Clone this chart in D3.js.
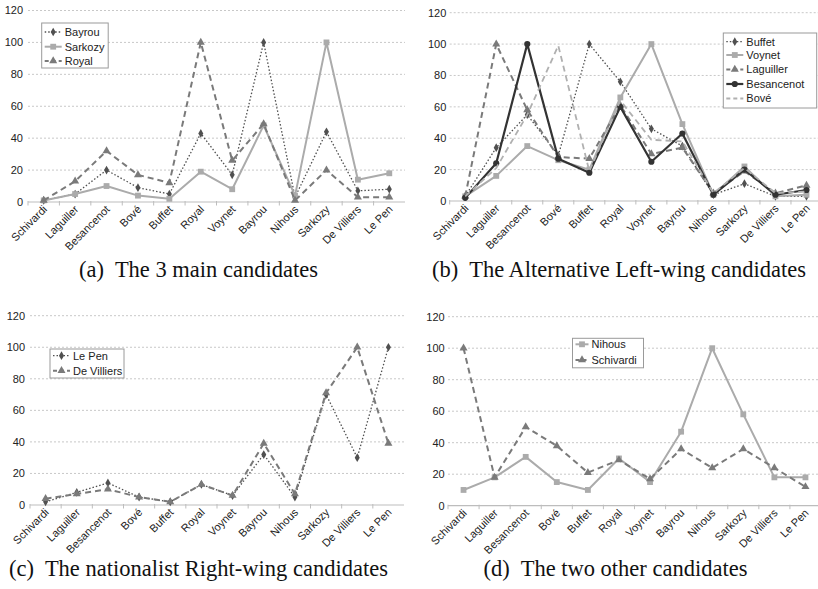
<!DOCTYPE html>
<html><head><meta charset="utf-8">
<script src="https://cdn.jsdelivr.net/npm/d3@7"></script>
<style>
html,body{margin:0;padding:0;background:#fff;}
svg{display:block;}
text{font-family:"Liberation Sans",Arial,sans-serif;}
</style></head>
<body>
<svg id="c" width="818" height="589"></svg>
<script>
const categories = ["Schivardi","Laguiller","Besancenot","Bové","Buffet","Royal","Voynet","Bayrou","Nihous","Sarkozy","De Villiers","Le Pen"];
const yTicks = [0,20,40,60,80,100,120];

// (a) The 3 main candidates
const bayrouA   = [1, 5, 20, 9, 5, 43, 17, 100, 3, 44, 7, 8];
const sarkozyA  = [1, 5, 10, 4, 2, 19, 8, 48, 4, 100, 14, 18];
const royalA    = [1, 13, 32, 17, 12, 100, 26, 49, 1, 20, 3, 3];
// (b) Alternative left-wing
const buffetB     = [3, 34, 55, 29, 100, 76, 46, 35, 4, 11, 3, 3];
const voynetB     = [3, 16, 35, 26, 20, 66, 100, 49, 4, 22, 3, 4];
const laguillerB  = [3, 100, 58, 28, 27, 61, 30, 34, 5, 19, 5, 10];
const besancenotB = [2, 24, 100, 27, 18, 60, 25, 43, 4, 20, 4, 7];
const boveB       = [3, 21, 55, 99, 19, 64, 39, 38, 5, 21, 5, 6];
// (c) Nationalist right-wing
const lepenC      = [2, 8, 14, 5, 2, 13, 6, 32, 5, 70, 30, 100];
const devilliersC = [4, 7, 10, 5, 2, 13, 6, 39, 7, 71, 100, 39];
// (d) Two other candidates
const nihousD     = [10, 18, 31, 15, 10, 30, 15, 47, 100, 58, 18, 18];
const schivardiD  = [100, 18, 50, 38, 21, 29, 17, 36, 24, 36, 24, 12];

const captions = ["(a)  The 3 main candidates","(b)  The Alternative Left-wing candidates","(c)  The nationalist Right-wing candidates","(d)  The two other candidates"];

const STY = {
  dotted:  {stroke:"#505050", width:1.3, dash:"1.5,2", sym:d3.symbolDiamond, size:22, fill:"#505050"},
  solidL:  {stroke:"#ababab", width:2, dash:null, sym:d3.symbolSquare, size:34, fill:"#ababab"},
  dashedM: {stroke:"#7a7a7a", width:2, dash:"6,4", sym:d3.symbolTriangle, size:28, fill:"#7a7a7a"},
  solidD:  {stroke:"#333333", width:2.2, dash:null, sym:d3.symbolCircle, size:30, fill:"#333333"},
  dashedL: {stroke:"#b0b0b0", width:1.8, dash:"6,4", sym:null, size:0, fill:"none"}
};

const panels = [
  {x:[28,405], axisEnd:405, y:[202,10.5], labelRight:23, caption:[198.5,277],
   legend:{x:41.7,y:23,w:66.5,h:45,rows:[32,46.7,61],sample:17},
   series:[{name:"Bayrou",v:bayrouA,s:"dotted"},{name:"Sarkozy",v:sarkozyA,s:"solidL"},{name:"Royal",v:royalA,s:"dashedM"}]},
  {x:[449.7,822], axisEnd:818, y:[201,12.7], labelRight:446.3, caption:[619,276.5],
   legend:{x:723.3,y:33,w:93.4,h:75,rows:[41.7,55,69.5,84,98.5],sample:17},
   series:[{name:"Buffet",v:buffetB,s:"dotted"},{name:"Voynet",v:voynetB,s:"solidL"},{name:"Laguiller",v:laguillerB,s:"dashedM"},{name:"Besancenot",v:besancenotB,s:"solidD"},{name:"Bové",v:boveB,s:"dashedL"}]},
  {x:[30,404], axisEnd:404, y:[505,315.7], labelRight:25, caption:[198.5,576],
   legend:{x:50,y:349,w:74,h:29,rows:[355.7,370.7],sample:17},
   series:[{name:"Le Pen",v:lepenC,s:"dotted"},{name:"De Villiers",v:devilliersC,s:"dashedM"}]},
  {x:[448,821], axisEnd:818, y:[505.7,316.7], labelRight:444.7, caption:[615.5,576],
   legend:{x:572.5,y:338.3,w:71,h:29.5,rows:[344.3,360],sample:13},
   series:[{name:"Nihous",v:nihousD,s:"solidL"},{name:"Schivardi",v:schivardiD,s:"dashedM"}]}
];

const svg = d3.select("#c");

panels.forEach((p,pi)=>{
  const g = svg.append("g");
  const x = d3.scalePoint().domain(categories).range(p.x).padding(0.5);
  const y = d3.scaleLinear().domain([0,120]).range(p.y);
  const step = x.step();
  const x0 = p.x[0];

  // gridlines
  g.selectAll("line.grid").data(yTicks.filter(t=>t>0)).join("line")
    .attr("x1",x0).attr("x2",p.axisEnd)
    .attr("y1",d=>y(d)).attr("y2",d=>y(d))
    .attr("stroke","#c8c8c8").attr("stroke-width",1).attr("stroke-dasharray","2,2");

  // y labels
  g.selectAll("text.yl").data(yTicks).join("text")
    .attr("x",p.labelRight).attr("y",d=>y(d)).attr("dy","0.36em")
    .attr("text-anchor","end").attr("font-size",11).attr("fill","#222")
    .text(d=>d);

  // x axis line
  g.append("line").attr("x1",x0).attr("x2",p.axisEnd).attr("y1",y(0)).attr("y2",y(0))
    .attr("stroke","#bdbdbd").attr("stroke-width",1.2);
  // tick marks at band boundaries
  const bounds = d3.range(0,categories.length).map(i=>x0+i*step);
  g.selectAll("line.tk").data(bounds).join("line")
    .attr("x1",d=>d).attr("x2",d=>d).attr("y1",y(0)-(1)).attr("y2",y(0)+3.5)
    .attr("stroke","#bdbdbd").attr("stroke-width",1);

  // x labels
  g.selectAll("text.xl").data(categories).join("text")
    .attr("transform",d=>`translate(${x(d)+4},${y(0)+8}) rotate(-45)`)
    .attr("text-anchor","end").attr("font-size",11).attr("fill","#222")
    .text(d=>d);

  // series
  const line = d3.line().x((d,i)=>x(categories[i])).y(d=>y(d));
  p.series.forEach(s=>{
    const st = STY[s.s];
    g.append("path").attr("d",line(s.v)).attr("fill","none")
      .attr("stroke",st.stroke).attr("stroke-width",st.width)
      .attr("stroke-dasharray",st.dash).attr("stroke-linejoin","round");
    if(st.sym){
      g.selectAll(null).data(s.v).join("path")
        .attr("d",d3.symbol().type(st.sym).size(st.size))
        .attr("transform",(d,i)=>`translate(${x(categories[i])},${y(d)})`)
        .attr("fill",st.fill);
    }
  });

  // legend
  const L = p.legend;
  g.append("rect").attr("x",L.x).attr("y",L.y).attr("width",L.w).attr("height",L.h)
    .attr("fill","#fff").attr("stroke","#9a9a9a").attr("stroke-width",1);
  p.series.forEach((s,i)=>{
    const st = STY[s.s];
    const ly = L.rows[i];
    const sx = L.x+3;
    g.append("line").attr("x1",sx).attr("x2",sx+L.sample).attr("y1",ly).attr("y2",ly)
      .attr("stroke",st.stroke).attr("stroke-width",st.width)
      .attr("stroke-dasharray",st.dash ? (s.s==="dotted"?"1.5,2":"4,3") : null);
    if(st.sym){
      g.append("path").attr("d",d3.symbol().type(st.sym).size(st.size))
        .attr("transform",`translate(${sx+L.sample/2},${ly})`).attr("fill",st.fill);
    }
    g.append("text").attr("x",sx+L.sample+3).attr("y",ly).attr("dy","0.36em")
      .attr("font-size",11).attr("fill","#222").text(s.name);
  });

  // caption
  g.append("text").attr("x",p.caption[0]).attr("y",p.caption[1])
    .attr("text-anchor","middle").attr("font-size",22.5)
    .style("font-family","'Liberation Serif','Times New Roman',serif")
    .style("white-space","pre").attr("fill","#111")
    .text(captions[pi]);
});
</script>
</body></html>
